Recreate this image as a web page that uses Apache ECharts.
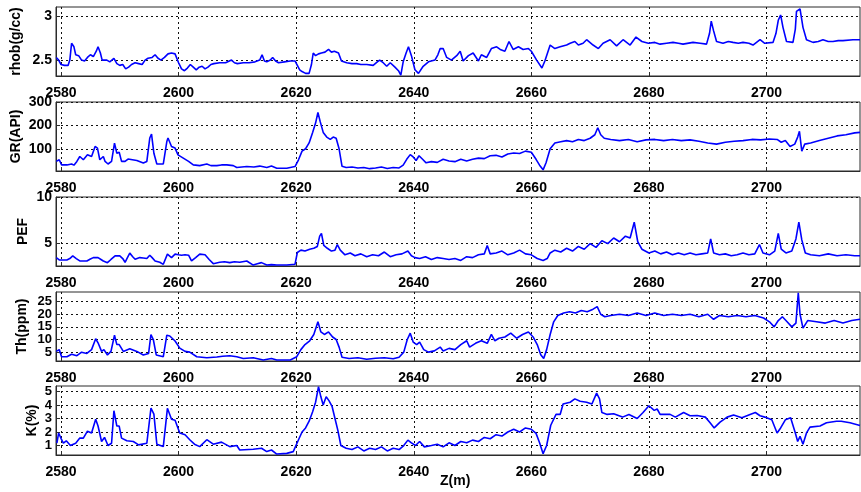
<!DOCTYPE html>
<html>
<head>
<meta charset="utf-8">
<script src="https://cdn.jsdelivr.net/npm/echarts@6/dist/echarts.min.js"></script>
<style>
  html, body { margin: 0; padding: 0; background: #fff; }
  #chart { width: 861px; height: 492px; }
</style>
</head>
<body>
<div id="chart"></div>
<script>
// Depth ticks shared by every track
const depthTicks = [2580, 2600, 2620, 2640, 2660, 2680, 2700];

// Bulk density (g/cc)
const rhobDepth = [2579.2,2579.6,2580.0,2580.6,2581.2,2581.5,2581.8,2582.2,2582.5,2583.0,2583.5,2584.0,2584.5,2585.0,2585.5,2586.0,2586.3,2586.7,2587.0,2587.8,2588.3,2589.0,2589.5,2590.0,2590.5,2591.0,2591.5,2592.0,2592.6,2593.2,2593.8,2594.3,2594.8,2595.5,2596.0,2596.5,2597.0,2597.6,2598.2,2598.8,2599.4,2600.0,2600.5,2601.0,2601.5,2602.0,2602.5,2603.0,2603.5,2604.0,2604.5,2605.0,2605.5,2606.0,2607.0,2608.0,2609.0,2609.5,2610.0,2611.0,2612.0,2613.0,2613.8,2614.2,2614.6,2615.0,2615.6,2616.0,2616.5,2617.0,2618.0,2619.0,2619.8,2620.2,2620.6,2621.0,2621.6,2622.2,2622.6,2622.9,2623.3,2623.8,2624.3,2624.9,2625.5,2626.0,2626.5,2627.2,2627.7,2628.6,2629.5,2630.3,2631.0,2632.0,2633.1,2633.8,2634.2,2634.8,2635.4,2636.0,2636.8,2637.4,2637.8,2638.2,2638.7,2639.1,2639.6,2640.2,2640.8,2641.6,2642.5,2643.6,2644.1,2644.5,2645.0,2645.6,2646.4,2647.3,2647.9,2648.4,2649.3,2650.1,2651.0,2651.5,2652.4,2653.2,2654.1,2654.7,2655.5,2656.2,2656.9,2657.8,2658.6,2659.5,2660.0,2660.9,2661.8,2662.3,2663.2,2664.0,2664.9,2666.0,2666.6,2667.4,2668.0,2668.8,2669.4,2670.5,2671.4,2672.2,2673.4,2674.5,2675.6,2676.8,2677.8,2678.8,2679.9,2681.0,2681.9,2683.0,2684.1,2685.0,2685.8,2687.5,2688.7,2689.8,2690.3,2690.6,2691.0,2691.5,2692.6,2693.5,2694.3,2695.2,2696.0,2697.0,2697.7,2698.9,2699.7,2701.1,2701.6,2702.0,2702.4,2702.8,2703.4,2704.5,2704.9,2705.1,2705.7,2706.2,2706.8,2707.9,2708.8,2709.6,2710.5,2711.3,2712.2,2713.0,2714.7,2715.9];
const rhob = [2.53,2.50,2.45,2.44,2.44,2.50,2.69,2.65,2.56,2.55,2.50,2.49,2.53,2.56,2.54,2.60,2.65,2.58,2.50,2.50,2.48,2.52,2.46,2.44,2.45,2.40,2.42,2.45,2.47,2.46,2.45,2.50,2.52,2.53,2.56,2.52,2.50,2.53,2.57,2.58,2.57,2.47,2.40,2.38,2.41,2.45,2.42,2.39,2.42,2.43,2.40,2.42,2.45,2.46,2.47,2.47,2.50,2.47,2.46,2.47,2.47,2.48,2.50,2.56,2.49,2.48,2.50,2.53,2.49,2.47,2.48,2.49,2.49,2.44,2.39,2.37,2.35,2.35,2.45,2.58,2.55,2.57,2.58,2.59,2.62,2.59,2.60,2.58,2.49,2.47,2.46,2.46,2.45,2.45,2.44,2.48,2.50,2.47,2.43,2.47,2.42,2.38,2.33,2.48,2.58,2.65,2.55,2.39,2.35,2.43,2.48,2.50,2.56,2.63,2.63,2.53,2.50,2.55,2.60,2.49,2.55,2.58,2.49,2.56,2.53,2.63,2.65,2.62,2.60,2.71,2.62,2.65,2.62,2.63,2.60,2.50,2.41,2.49,2.67,2.63,2.65,2.67,2.69,2.71,2.67,2.69,2.73,2.67,2.63,2.69,2.73,2.66,2.73,2.67,2.76,2.71,2.69,2.70,2.68,2.69,2.70,2.69,2.68,2.70,2.69,2.68,2.80,2.94,2.83,2.71,2.69,2.71,2.70,2.69,2.70,2.69,2.67,2.73,2.69,2.70,2.80,2.95,3.01,2.87,2.71,2.70,2.85,3.05,3.08,2.87,2.73,2.70,2.71,2.73,2.71,2.71,2.72,2.72,2.73,2.73];

// Gamma ray (API)
const grDepth = [2579.2,2579.7,2580.1,2581.0,2581.8,2582.2,2582.7,2583.2,2583.8,2584.5,2585.2,2585.8,2586.2,2586.6,2587.2,2587.5,2588.0,2588.6,2589.1,2589.5,2589.9,2590.3,2590.9,2591.4,2592.9,2594.0,2594.6,2595.1,2595.4,2595.8,2596.3,2597.4,2598.0,2598.2,2598.8,2599.4,2599.9,2600.8,2601.7,2602.5,2603.6,2604.8,2605.5,2606.5,2607.3,2608.2,2609.3,2609.9,2611.6,2612.8,2613.8,2615.0,2615.8,2616.7,2618.4,2619.8,2620.4,2621.0,2621.6,2622.2,2622.8,2623.3,2623.7,2624.1,2624.6,2625.2,2625.8,2626.3,2626.8,2627.3,2627.8,2628.5,2629.5,2630.5,2631.5,2632.5,2633.5,2634.5,2635.5,2636.5,2637.5,2638.2,2638.8,2639.4,2639.9,2640.4,2640.9,2641.5,2642.1,2643.0,2644.0,2645.0,2646.0,2647.0,2648.0,2649.0,2650.0,2651.0,2652.0,2653.0,2654.0,2655.0,2656.0,2657.0,2658.0,2659.0,2660.0,2660.8,2661.4,2662.0,2662.5,2663.2,2664.0,2665.0,2666.0,2667.0,2668.0,2669.0,2670.0,2670.8,2671.3,2671.8,2672.4,2673.5,2675.0,2676.5,2678.0,2679.5,2681.0,2682.5,2684.0,2685.5,2687.0,2688.5,2690.0,2691.5,2693.0,2694.5,2696.0,2697.5,2699.0,2700.5,2701.8,2702.5,2703.2,2704.0,2704.8,2705.3,2705.6,2706.0,2706.5,2707.5,2709.0,2710.5,2712.0,2713.5,2715.0,2715.9];
const gr = [46,53,31,31,35,30,46,67,53,74,67,110,103,53,67,46,35,46,124,81,85,46,46,56,50,39,46,146,163,81,35,35,131,146,110,103,74,60,46,31,28,35,28,28,31,31,28,20,24,22,26,20,26,17,17,24,53,90,100,125,170,210,255,215,170,150,140,150,145,100,25,20,22,18,20,15,18,22,16,20,18,30,55,75,65,50,70,55,40,45,42,55,48,45,55,48,55,60,58,70,72,65,78,82,80,90,85,55,30,10,40,100,125,130,135,130,140,135,145,160,190,160,145,140,135,140,130,138,140,135,140,135,138,132,125,120,128,132,135,140,138,142,140,128,135,110,120,150,175,90,120,125,135,145,155,160,168,170];

// Photoelectric factor
const pefDepth = [2579.2,2579.7,2581.0,2581.5,2582.0,2582.6,2583.2,2584.4,2585.0,2585.5,2586.3,2586.8,2587.2,2587.9,2588.5,2589.2,2590.0,2590.5,2590.9,2591.3,2591.7,2592.2,2592.6,2593.4,2594.0,2594.6,2595.1,2595.5,2596.0,2596.8,2597.4,2598.1,2598.8,2599.4,2600.0,2600.5,2601.1,2601.7,2602.2,2602.9,2603.6,2604.5,2605.2,2605.9,2607.0,2607.8,2608.7,2609.5,2610.4,2611.6,2612.7,2613.4,2614.1,2615.0,2615.8,2616.7,2618.4,2619.8,2620.2,2620.8,2621.5,2622.3,2623.0,2623.6,2624.0,2624.3,2624.7,2625.3,2626.0,2626.6,2627.0,2627.5,2628.3,2629.2,2630.0,2631.0,2632.0,2633.0,2634.0,2635.0,2636.0,2637.0,2638.0,2639.0,2639.6,2640.2,2641.0,2642.0,2643.0,2644.0,2645.0,2646.0,2647.0,2648.0,2649.0,2650.0,2651.0,2652.0,2652.5,2653.0,2654.0,2655.0,2656.0,2657.0,2658.0,2659.0,2660.0,2661.0,2662.0,2662.7,2663.2,2664.0,2665.0,2666.0,2667.0,2668.0,2669.0,2670.0,2671.0,2672.0,2673.0,2674.0,2675.0,2676.0,2676.8,2677.5,2678.1,2678.8,2680.0,2681.0,2682.0,2683.0,2684.0,2685.0,2686.0,2687.0,2688.0,2689.0,2690.0,2690.5,2691.0,2692.0,2693.0,2694.0,2695.0,2696.0,2697.0,2698.0,2698.8,2699.4,2700.5,2701.4,2702.0,2702.5,2703.3,2704.3,2705.0,2705.5,2706.0,2706.6,2707.5,2709.0,2710.5,2712.0,2713.5,2715.0,2715.9];
const pef = [3.5,3.25,3.25,3.4,3.69,3.4,3.14,3.14,3.35,3.5,3.5,3.3,3.14,2.96,3.3,3.69,3.69,3.4,3.0,3.5,3.98,3.6,3.33,3.5,3.45,3.4,3.76,3.5,3.14,3.0,2.78,3.87,3.5,3.87,3.8,3.76,3.8,3.76,3.14,3.5,3.87,3.8,3.3,2.85,3.0,3.05,2.96,3.05,3.0,3.14,2.7,2.85,2.96,2.7,2.75,2.7,2.7,2.78,4.05,4.3,4.2,4.4,4.5,4.7,5.8,6.1,4.8,4.5,4.2,4.3,4.9,4.3,3.8,4.0,3.7,3.9,3.6,3.8,3.7,4.1,3.6,3.8,3.9,4.2,3.7,3.5,3.4,3.6,3.3,3.5,3.4,3.3,3.4,3.2,3.6,3.5,3.8,3.9,4.8,3.9,4.0,4.2,3.8,4.0,4.3,3.9,3.8,3.4,3.2,3.4,4.0,4.3,4.1,4.5,4.2,4.7,4.4,5.0,4.6,5.3,5.0,5.6,5.2,5.8,5.6,7.3,5.2,4.4,4.0,4.2,3.9,4.1,3.8,4.0,3.8,4.0,3.8,3.9,4.0,5.5,4.0,3.8,3.9,3.7,3.8,4.0,3.8,3.9,4.9,4.0,3.8,4.2,6.1,4.4,4.0,4.2,5.5,7.3,5.4,4.0,3.8,3.7,3.9,3.7,3.8,3.7,3.7];

// Thorium (ppm)
const thDepth = [2579.2,2579.7,2580.1,2581.0,2581.8,2582.7,2583.5,2584.4,2585.2,2585.9,2586.3,2586.9,2587.3,2587.9,2588.5,2589.1,2589.5,2589.9,2590.6,2591.7,2592.9,2594.0,2594.9,2595.3,2595.7,2596.2,2597.4,2598.0,2598.5,2599.4,2600.2,2601.1,2601.9,2603.1,2604.8,2606.5,2607.5,2608.7,2609.9,2611.0,2612.7,2614.4,2615.8,2616.7,2619.0,2620.1,2620.8,2621.5,2622.3,2623.0,2623.7,2624.2,2624.8,2625.5,2626.2,2626.8,2627.3,2627.8,2629.0,2630.5,2632.0,2633.5,2635.0,2636.5,2637.5,2638.3,2638.9,2639.4,2639.9,2640.5,2641.0,2641.7,2642.5,2643.5,2644.5,2645.0,2646.0,2647.0,2648.0,2649.0,2649.5,2650.5,2651.5,2652.5,2653.2,2653.8,2654.5,2655.5,2656.5,2657.5,2658.5,2659.5,2660.3,2661.0,2661.6,2662.1,2662.6,2663.2,2663.8,2664.5,2665.5,2666.5,2667.5,2668.5,2669.5,2670.5,2671.2,2671.8,2672.5,2673.5,2675.0,2676.5,2678.0,2679.5,2681.0,2682.5,2684.0,2685.5,2687.0,2688.5,2690.0,2691.0,2692.0,2693.5,2695.0,2696.5,2698.0,2699.5,2700.5,2701.3,2702.0,2702.7,2703.5,2704.3,2705.0,2705.4,2705.7,2706.2,2707.0,2708.5,2710.0,2711.5,2713.0,2714.5,2715.9];
const th = [5.3,6.0,3.2,3.2,4.2,3.6,5.0,4.5,6.0,10.3,8.7,5.3,6.0,3.9,5.3,11.7,8.0,8.0,5.3,6.3,5.3,3.9,4.5,11.9,10.0,3.9,3.2,11.7,11.4,9.4,6.6,5.3,5.0,3.2,2.8,3.1,3.4,3.6,3.2,2.5,2.8,1.9,2.5,1.9,1.9,3.2,6.0,8.0,9.5,12.0,17.0,13.0,12.0,13.0,11.0,10.0,7.0,3.0,2.5,2.8,2.2,2.6,2.8,2.4,3.0,5.0,10.0,12.5,9.0,8.0,9.0,6.0,5.0,5.5,7.0,5.5,6.5,6.0,8.0,9.5,7.0,8.5,9.5,8.5,12.0,9.5,10.5,11.0,12.5,10.5,12.0,13.0,11.0,8.0,4.0,2.5,6.0,12.0,17.0,19.5,20.5,21.0,20.5,21.5,21.0,22.0,23.0,20.0,19.0,19.5,20.0,19.5,20.5,19.5,20.5,19.5,20.0,19.5,20.0,19.0,20.0,18.0,19.5,19.0,19.5,19.0,19.5,18.5,17.0,15.0,17.5,19.0,17.0,15.0,16.5,28.5,20.0,14.5,17.5,17.0,16.5,17.5,16.5,17.5,18.0];

// Potassium (%)
const kDepth = [2579.3,2579.6,2580.1,2580.4,2580.9,2581.6,2582.5,2583.2,2583.8,2584.5,2585.2,2585.9,2586.3,2586.9,2587.4,2588.0,2588.6,2589.0,2589.5,2589.9,2590.3,2591.2,2592.3,2593.2,2594.6,2595.3,2595.8,2596.3,2597.4,2598.1,2598.8,2599.4,2600.2,2601.1,2601.9,2602.7,2603.6,2604.8,2605.9,2607.3,2608.7,2609.9,2610.4,2612.7,2614.1,2615.0,2615.8,2616.7,2618.4,2619.5,2620.4,2621.0,2621.6,2622.2,2622.8,2623.3,2623.8,2624.2,2624.6,2625.1,2625.6,2626.1,2626.6,2627.1,2627.6,2628.5,2629.5,2630.5,2631.5,2632.5,2633.5,2634.5,2635.5,2636.5,2637.5,2638.3,2639.0,2639.6,2640.3,2641.0,2641.8,2643.0,2644.0,2645.0,2646.0,2647.0,2648.0,2649.0,2650.0,2651.0,2652.0,2653.0,2654.0,2655.0,2656.0,2657.0,2658.0,2659.0,2660.0,2660.8,2661.4,2662.0,2662.6,2663.3,2664.2,2664.9,2665.4,2666.6,2667.4,2668.3,2669.4,2670.3,2671.1,2671.6,2672.0,2672.9,2674.0,2675.5,2676.6,2678.0,2679.0,2680.0,2680.9,2681.4,2681.9,2683.6,2684.5,2685.9,2687.0,2688.2,2689.6,2690.4,2691.1,2692.1,2693.3,2694.4,2695.8,2697.2,2698.1,2698.9,2699.7,2700.9,2701.8,2702.4,2703.2,2704.1,2704.9,2705.3,2705.7,2706.2,2706.8,2707.4,2709.1,2710.2,2711.9,2712.7,2714.2,2715.9];
const kPct = [1.17,1.93,1.43,1.17,1.35,1.0,1.17,1.55,1.55,2.06,1.93,2.94,2.44,1.3,1.6,1.0,1.17,3.57,2.44,2.44,1.55,1.35,1.3,1.05,1.17,3.77,3.32,1.1,0.92,3.75,2.94,2.87,1.93,1.8,1.43,1.1,0.92,1.43,1.1,1.25,0.92,1.0,0.67,0.72,0.8,0.55,0.67,0.37,0.42,0.55,1.43,2.0,2.3,2.8,3.5,4.2,5.35,4.6,4.0,4.6,4.3,3.9,3.0,2.1,1.0,0.8,0.7,0.9,0.6,0.8,0.7,0.9,0.6,0.8,0.7,1.0,1.4,1.2,1.0,1.3,0.9,1.0,1.1,0.9,1.2,1.0,1.3,1.2,1.4,1.3,1.6,1.5,1.8,1.7,2.0,2.2,2.0,2.3,2.2,1.9,1.2,0.4,1.0,2.5,3.3,3.3,4.07,4.2,4.45,4.27,4.2,4.07,4.87,4.45,3.44,3.3,3.35,3.1,3.3,3.0,3.44,3.94,3.6,3.7,3.3,3.3,3.1,3.44,3.2,3.22,3.1,2.68,2.3,2.73,3.1,3.25,3.05,3.3,3.44,3.2,3.1,2.9,1.93,2.3,2.9,3.05,1.93,1.3,1.68,1.1,1.93,2.36,2.44,2.68,2.8,2.8,2.68,2.48];

// Track definitions. Tightly spaced tick labels are split over two
// label rows so that none of them is dropped as overlapping.
const tracks = [
  { name: 'rhob(g/cc)', depth: rhobDepth, values: rhob, min: 2.32, max: 3.1, ticks: [2.5, 3], labels: [[2.5, 3]], size: 14, gap: 33 },
  { name: 'GR(API)', depth: grDepth, values: gr, min: 5, max: 300, ticks: [100, 200, 300], labels: [[100, 200, 300]], size: 14, gap: 33 },
  { name: 'PEF', depth: pefDepth, values: pef, min: 2.6, max: 10, ticks: [5, 10], labels: [[5, 10]], size: 14, gap: 26 },
  { name: 'Th(ppm)', depth: thDepth, values: th, min: 1.5, max: 28.8, ticks: [5, 10, 15, 20, 25], labels: [[5, 15, 25], [10, 20]], size: 13, gap: 27 },
  { name: 'K(%)', depth: kDepth, values: kPct, min: 0.3, max: 5.4, ticks: [1, 2, 3, 4, 5], labels: [[1, 3, 5], [2, 4]], size: 13, gap: 17 }
];

const gridTops = [7, 102, 197, 292, 386];
const gridHeight = 69;
const depthMin = 2579.15, depthMax = 2715.9;
const font = 'Liberation Sans, Arial, sans-serif';
const frameColor = '#2b2b2b';
const dotted = { color: '#111', width: 1, type: [2, 3] };
const plain = v => String(v);

const labelStyle = size => ({
  formatter: plain, interval: 0, hideOverlap: false,
  showMinLabel: true, showMaxLabel: true,
  fontFamily: font, fontWeight: 'bold', fontSize: size, color: '#000'
});

const grids = [], xAxes = [], yAxes = [], series = [];
tracks.forEach((t, i) => {
  grids.push({
    left: 56, width: 804, top: gridTops[i], height: gridHeight,
    show: true, borderColor: frameColor, borderWidth: 1, backgroundColor: '#fff'
  });
  xAxes.push({
    type: 'value', gridIndex: i, min: depthMin, max: depthMax,
    axisLine: { show: true, onZero: false, lineStyle: { color: frameColor } },
    axisTick: { show: true, inside: true, length: 4, customValues: depthTicks, lineStyle: { color: frameColor } },
    axisLabel: Object.assign(labelStyle(14), { customValues: depthTicks, margin: 10 }),
    splitLine: { show: true, lineStyle: dotted }
  });
  const mainY = yAxes.length;
  t.labels.forEach((vals, k) => {
    const primary = k === 0;
    yAxes.push({
      type: 'value', gridIndex: i, min: t.min, max: t.max, position: 'left',
      name: primary ? t.name : '', nameLocation: 'middle', nameRotate: 90, nameGap: t.gap,
      nameMoveOverlap: false,
      nameTextStyle: { fontFamily: font, fontWeight: 'bold', fontSize: 14, color: '#000' },
      axisLine: { show: primary, lineStyle: { color: frameColor } },
      axisTick: { show: primary, inside: true, length: 4, customValues: t.ticks, lineStyle: { color: frameColor } },
      axisLabel: Object.assign(labelStyle(t.size), { customValues: vals, margin: 4 }),
      splitLine: { show: primary, lineStyle: dotted }
    });
  });
  series.push({
    type: 'line', xAxisIndex: i, yAxisIndex: mainY,
    data: t.depth.map((d, j) => [d, t.values[j]]),
    showSymbol: false, symbol: 'none',
    lineStyle: { color: '#0000ff', width: 1.6 },
    clip: true
  });
});

const chart = echarts.init(document.getElementById('chart'), null, { renderer: 'canvas' });
chart.setOption({
  animation: false,
  backgroundColor: '#fff',
  grid: grids,
  xAxis: xAxes,
  yAxis: yAxes,
  series: series,
  graphic: [{
    type: 'text', left: 440, top: 474,
    style: { text: 'Z(m)', fontFamily: font, fontWeight: 'bold', fontSize: 14, fill: '#000' }
  }]
});
</script>
</body>
</html>
